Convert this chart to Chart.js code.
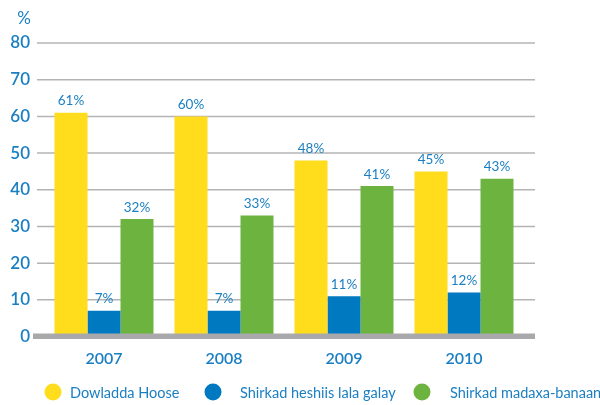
<!DOCTYPE html>
<html>
<head>
<meta charset="utf-8">
<script src="https://cdn.jsdelivr.net/npm/chart.js@4/dist/chart.umd.min.js"></script>
<style>
  html, body { margin: 0; padding: 0; background: #fff; }
  #wrap { width: 600px; height: 405px; position: relative; }
</style>
</head>
<body>
<div id="wrap"><canvas id="chart"></canvas></div>
<script>
// ── Data ──────────────────────────────────────────────────
const years        = ['2007', '2008', '2009', '2010'];
const seriesNames  = ['Dowladda Hoose', 'Shirkad heshiis lala galay', 'Shirkad madaxa-banaan'];
const localGov     = [61, 60, 48, 45];
const contracted   = [7, 7, 11, 12];
const independent  = [32, 33, 41, 43];
const yTicks       = [0, 10, 20, 30, 40, 50, 60, 70, 80];

const BLUE_TEXT = '#1a7fc2';
const FONT = 'Lato, "Open Sans", sans-serif';

// legend row layout: circle centre and text start per item
const legendDots  = [53, 213, 422];
const legendTexts = [70, 240, 450];

// ── Plugins ───────────────────────────────────────────────
// grid lines drawn a bit wider than the plot area, thick zero line
const gridPlugin = {
  id: 'gridLines',
  beforeDatasetsDraw(chart) {
    const { ctx, chartArea, scales: { y } } = chart;
    ctx.save();
    yTicks.forEach(v => {
      if (v === 0) return;
      const py = y.getPixelForValue(v);
      ctx.strokeStyle = '#b4b4b4';
      ctx.lineWidth = 1.5;
      ctx.beginPath();
      ctx.moveTo(chartArea.left - 7, py);
      ctx.lineTo(chartArea.right + 11, py);
      ctx.stroke();
    });
    ctx.restore();
  },
  afterDatasetsDraw(chart) {
    const { ctx, chartArea, scales: { y } } = chart;
    const py = y.getPixelForValue(0);
    ctx.save();
    ctx.fillStyle = '#a9a9ab';
    ctx.fillRect(chartArea.left - 11, py - 3, chartArea.right - chartArea.left + 22, 5.5);
    ctx.restore();
  }
};

// value labels above bars, "%" unit label and the legend row
const labelPlugin = {
  id: 'valueLabels',
  afterDatasetsDraw(chart) {
    const { ctx } = chart;
    ctx.save();
    ctx.fillStyle = BLUE_TEXT;
    ctx.font = '13.5px ' + FONT;
    ctx.textAlign = 'center';
    ctx.textBaseline = 'bottom';
    chart.data.datasets.forEach((ds, i) => {
      chart.getDatasetMeta(i).data.forEach((bar, j) => {
        ctx.fillText(ds.data[j] + '%', bar.x, bar.y - 5);
      });
    });
    ctx.font = '17px ' + FONT;
    ctx.textBaseline = 'middle';
    ctx.fillText('%', 24, 19);

    // legend
    ctx.font = '14.5px ' + FONT;
    ctx.textAlign = 'left';
    const ly = 392;
    chart.data.datasets.forEach((ds, i) => {
      ctx.fillStyle = ds.backgroundColor;
      ctx.beginPath();
      ctx.arc(legendDots[i], ly, 8.5, 0, Math.PI * 2);
      ctx.fill();
      ctx.fillStyle = BLUE_TEXT;
      ctx.fillText(ds.label, legendTexts[i], ly + 1);
    });
    ctx.restore();
  }
};

// ── Chart ─────────────────────────────────────────────────
new Chart(document.getElementById('chart'), {
  type: 'bar',
  data: {
    labels: years,
    datasets: [
      { label: seriesNames[0], data: localGov,    backgroundColor: '#ffdc1c' },
      { label: seriesNames[1], data: contracted,  backgroundColor: '#0079c1' },
      { label: seriesNames[2], data: independent, backgroundColor: '#6db33f' }
    ]
  },
  options: {
    responsive: true,
    maintainAspectRatio: false,
    animation: false,
    layout: { padding: { top: 43, right: 76, left: 0, bottom: 28.5 } },
    datasets: { bar: { categoryPercentage: 0.825, barPercentage: 1.0, borderWidth: 0 } },
    plugins: {
      tooltip: { enabled: false },
      legend: { display: false }
    },
    scales: {
      x: {
        grid: { display: false, drawTicks: false },
        border: { display: false },
        ticks: { color: BLUE_TEXT, padding: 13, font: { family: FONT, size: 16, weight: '600' } },
        afterFit: s => { s.height = 40; }
      },
      y: {
        min: 0,
        max: 80,
        afterBuildTicks: s => { s.ticks = yTicks.map(v => ({ value: v })); },
        grid: { display: false, drawTicks: false },
        border: { display: false },
        ticks: { color: BLUE_TEXT, padding: 14, font: { family: FONT, size: 17, weight: '600' } },
        afterFit: s => { s.width = 44; }
      }
    }
  },
  plugins: [gridPlugin, labelPlugin]
});
</script>
</body>
</html>
